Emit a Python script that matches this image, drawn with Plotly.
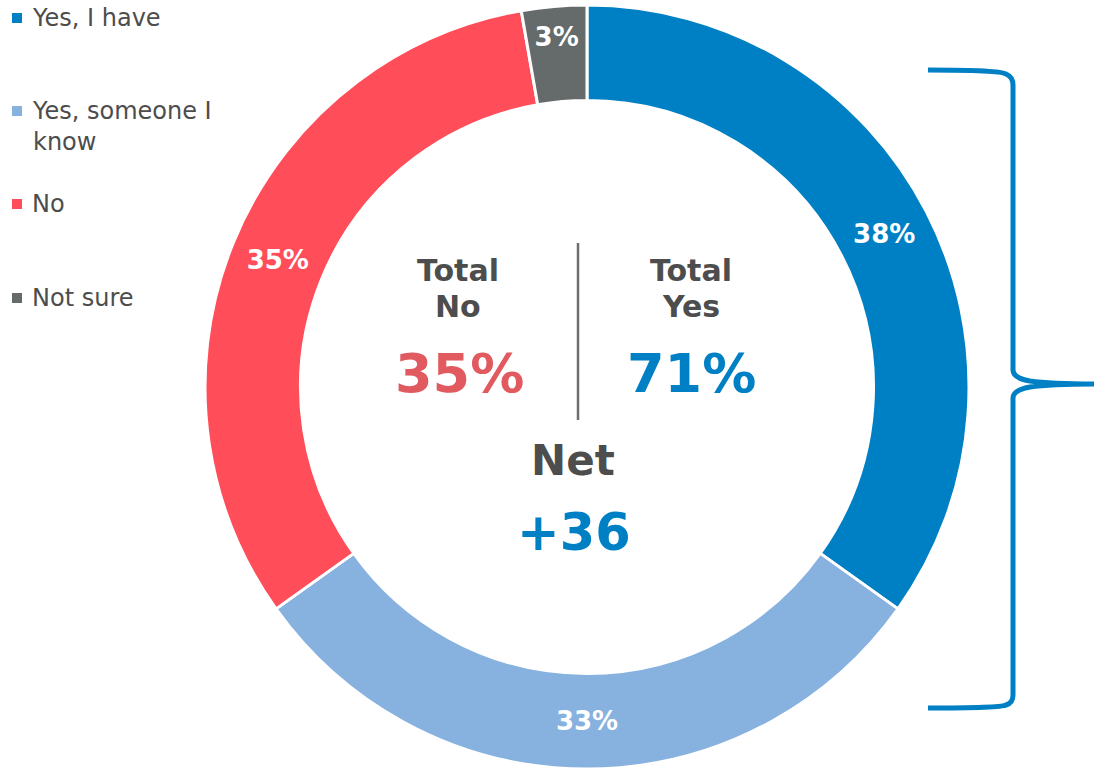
import plotly.graph_objects as go

# ---- data ----
categories = ["Yes, I have", "Yes, someone I know", "No", "Not sure"]
legend_labels = ["Yes, I have", "Yes, someone I<br>know", "No", "Not sure"]
values = [38, 33, 35, 3]
colors = ["#0080c4", "#87b1de", "#ff4d5a", "#656a6a"]
total_no = 35
total_yes = 71
net = 36

W, H = 1094, 769
FONT = "DejaVu Sans"
DARK = "#4d4d4d"


def px(x):
    return x / W


def py(y):
    return 1 - y / H


fig = go.Figure()
fig.add_trace(go.Pie(
    labels=categories,
    values=values,
    text=[f"{v}%" for v in values],
    texttemplate="<b>%{text}</b>",
    textposition="inside",
    insidetextorientation="horizontal",
    textfont=dict(family=FONT, size=26, color="white"),
    marker=dict(colors=colors, line=dict(color="white", width=3)),
    hole=0.75,
    sort=False,
    direction="clockwise",
    rotation=0,
    showlegend=False,
    domain=dict(x=[205 / W, 969 / W], y=[0, 764 / H]),
    hoverinfo="label+value",
))

annotations = []
shapes = []

# ---- manual legend ----
legend_y = [18, 126, 204, 298]
square_y = [18, 111, 204, 298]
for lab, col, ty, sy in zip(legend_labels, colors, legend_y, square_y):
    shapes.append(dict(type="rect", xref="paper", yref="paper",
                       x0=px(12), x1=px(22), y0=py(sy - 5), y1=py(sy + 5),
                       fillcolor=col, line=dict(width=0)))
    annotations.append(dict(text=lab, x=px(30), y=py(ty), xref="paper", yref="paper",
                            xanchor="left", yanchor="middle", showarrow=False, align="left",
                            font=dict(family=FONT, size=24, color=DARK)))

# ---- center texts ----
def center_text(txt, x, y, size, color):
    annotations.append(dict(text=f"<b>{txt}</b>", x=px(x), y=py(y), xref="paper", yref="paper",
                            xanchor="center", yanchor="middle", showarrow=False,
                            font=dict(family=FONT, size=size, color=color)))

center_text("Total", 458, 270, 30, DARK)
center_text("No", 458, 306, 30, DARK)
center_text("Total", 691, 270, 30, DARK)
center_text("Yes", 691, 306, 30, DARK)
center_text(f"{total_no}%", 459, 373, 54, "#e05a5f")
center_text(f"{total_yes}%", 691, 373, 54, "#0080c4")
center_text("Net", 573, 460, 42, DARK)
center_text(f"+{net}", 574, 532, 51, "#0080c4")

shapes.append(dict(type="line", xref="paper", yref="paper",
                   x0=px(578), x1=px(578), y0=py(243), y1=py(420),
                   line=dict(color="#6b6e6e", width=2.5)))

# ---- brace ----
pts = [
    ("M", 928, 70), ("Q", 1000, 70, 1006, 74), ("Q", 1013, 77, 1013, 85),
    ("L", 1013, 370), ("Q", 1013, 378, 1030, 381), ("Q", 1050, 384, 1094, 384),
    ("M", 1094, 384), ("Q", 1050, 384, 1030, 387), ("Q", 1013, 390, 1013, 398),
    ("L", 1013, 695), ("Q", 1013, 703, 1006, 705), ("Q", 1000, 708, 928, 708),
]
path = ""
for p in pts:
    cmd = p[0]
    coords = p[1:]
    xy = []
    for i in range(0, len(coords), 2):
        xy.append(f"{px(coords[i]):.5f},{py(coords[i + 1]):.5f}")
    path += cmd + " " + " ".join(xy) + " "
shapes.append(dict(type="path", xref="paper", yref="paper", path=path.strip(),
                   line=dict(color="#0080c4", width=5)))

fig.update_layout(
    width=W, height=H,
    margin=dict(l=0, r=0, t=0, b=0),
    paper_bgcolor="white", plot_bgcolor="white",
    annotations=annotations, shapes=shapes,
    showlegend=False,
)

fig.write_html(
    "out.html",
    config={"displayModeBar": False},
    post_script="document.body.style.margin='0';document.body.style.overflow='hidden';",
)
